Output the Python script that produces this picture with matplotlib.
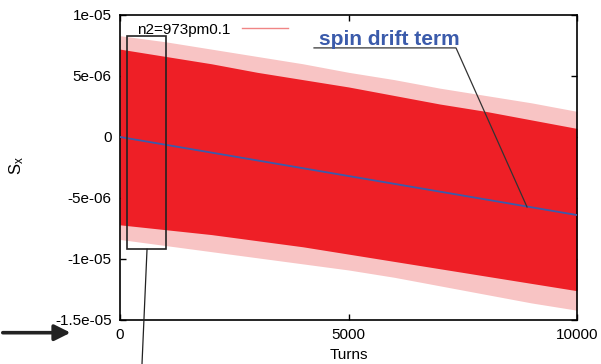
import matplotlib
matplotlib.use('Agg')
import matplotlib.pyplot as plt
from matplotlib.patches import Rectangle

plt.rcParams['font.family'] = ['Liberation Sans', 'DejaVu Sans']
plt.rcParams['mathtext.default'] = 'regular'

# envelope of the fast oscillation (units of 1e-6)
turns = [0, 1000, 2000, 3000, 4000, 5000, 6000, 7000, 8000, 9000, 10000]
upper_peak = [8.3, 7.8, 7.2, 6.6, 6.0, 5.3, 4.7, 4.0, 3.4, 2.8, 2.1]
upper_core = [7.2, 6.6, 6.0, 5.3, 4.7, 4.1, 3.4, 2.7, 2.1, 1.4, 0.7]
lower_core = [-7.2, -7.6, -8.0, -8.5, -9.0, -9.6, -10.2, -10.8, -11.4, -12.0, -12.6]
lower_peak = [-8.4, -8.9, -9.4, -9.9, -10.4, -10.9, -11.5, -12.2, -12.9, -13.6, -14.2]

# spin drift term (straight line)
drift_turns = [0, 10000]
drift = [0.0, -6.4]

yticks = [1e-05, 5e-06, 0, -5e-06, -1e-05, -1.5e-05]
ytick_labels = ['1e-05', '5e-06', '0', '-5e-06', '-1e-05', '-1.5e-05']
xticks = [0, 5000, 10000]

red = '#ee1f26'
pink = '#f8c4c4'
blue = '#3b5bab'
s = 1e-6

fig = plt.figure(figsize=(6.01, 3.64), dpi=100)
ax = fig.add_axes([0.1997, 0.1209, 0.7604, 0.838])

# band: light spikes + solid core
ax.fill_between(turns, [v * s for v in lower_peak], [v * s for v in upper_peak],
                color=pink, lw=0, zorder=1)
ax.fill_between(turns, [v * s for v in lower_core], [v * s for v in upper_core],
                color=red, lw=0, zorder=2)
ax.plot([], [], color='#f08585', lw=1, label='n2=973pm0.1')

ax.plot(drift_turns, [v * s for v in drift], color=blue, lw=1.3, zorder=4)

ax.set_xlim(0, 10000)
ax.set_ylim(-1.5e-05, 1e-05)
ax.set_xticks(xticks)
ax.set_xticklabels([str(t) for t in xticks])
ax.set_yticks(yticks)
ax.set_yticklabels(ytick_labels)
ax.tick_params(direction='in', top=True, right=True, length=4, width=1,
               labelsize=11, pad=6)
for sp in ax.spines.values():
    sp.set_linewidth(1.2)

ax.set_xlabel('Turns', fontsize=11, labelpad=4)
ax.set_ylabel('S$_x$', fontsize=12)
ax.yaxis.set_label_coords(-0.205, 0.508)

ax.legend(loc='upper left', bbox_to_anchor=(0.02, 1.0), frameon=False,
          markerfirst=False, fontsize=11, handlelength=3.0, handletextpad=0.8,
          borderaxespad=0.1)

# box around the first turns
rect = Rectangle((150, -9.2e-6), 860, 17.5e-6, fill=False, edgecolor='#222222',
                 lw=1.2, zorder=5)
ax.add_patch(rect)
ax.plot([591, 481], [-9.2e-6, -18.6e-6], color='#222222', lw=0.9,
        clip_on=False, zorder=5)

# spin drift annotation
ax.text(4354, 7.5e-6, 'spin drift term', color=blue, fontsize=15,
        fontweight='bold', va='baseline', ha='left', zorder=6)
ax.plot([4245, 7352, 8906], [7.3e-6, 7.3e-6, -5.74e-6], color='#333333',
        lw=0.9, clip_on=False, zorder=5)

# arrow at the bottom left
fig.add_artist(matplotlib.patches.FancyArrowPatch(
    (0.0, 0.086), (0.122, 0.086), transform=fig.transFigure,
    arrowstyle='-|>', mutation_scale=24, lw=2.6, color='#222222'))

fig.savefig('out.png', dpi=100)
